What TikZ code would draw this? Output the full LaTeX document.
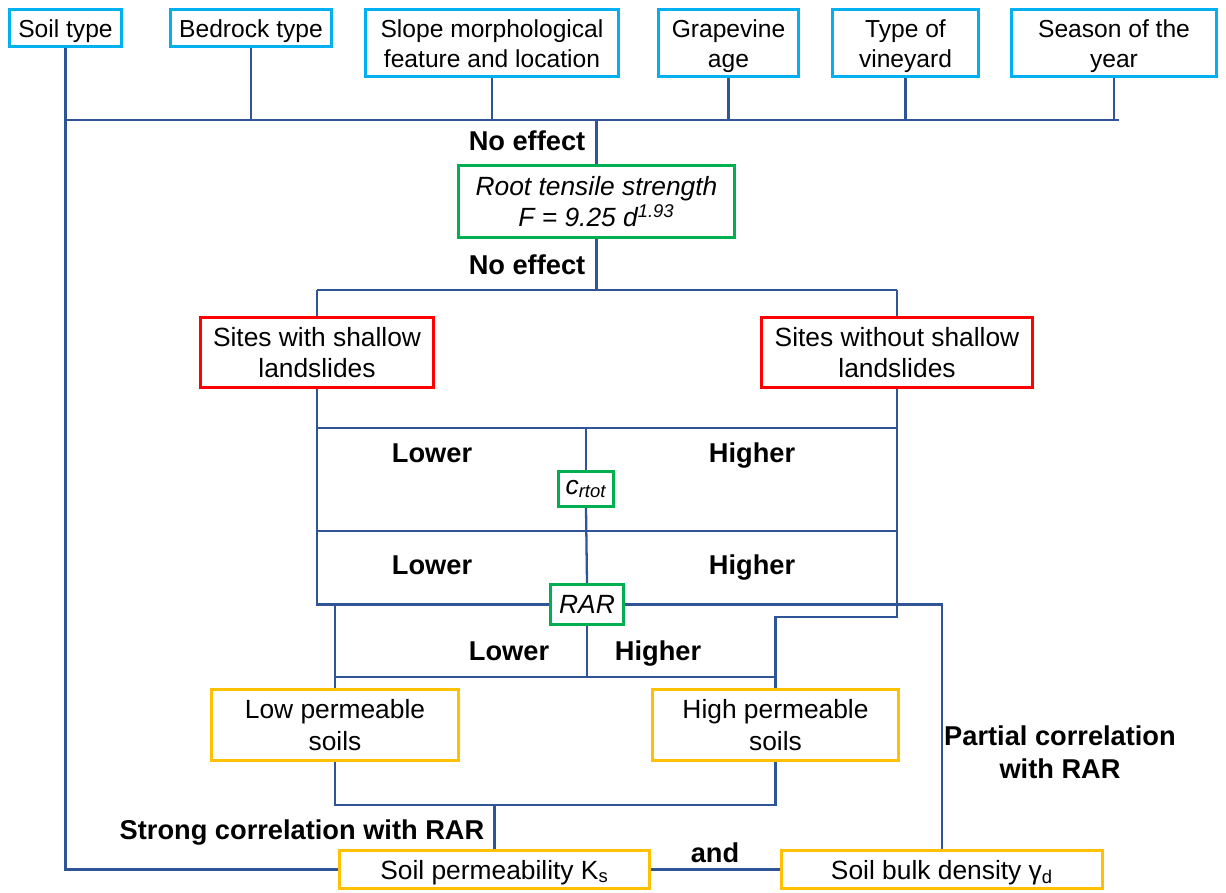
\documentclass[tikz,border=0pt]{standalone}
\usepackage{fontspec}
\setmainfont{Liberation Sans}
\definecolor{cyanb}{HTML}{00B0F0}
\definecolor{greenb}{HTML}{00B050}
\definecolor{redb}{HTML}{FF0000}
\definecolor{yellowb}{HTML}{FFC000}
\definecolor{lineb}{HTML}{2F5597}
\newcommand\bx[7]{\node[#6, minimum width={(#4-#2-3)*0.02cm}, minimum height={(#5-#3-3)*0.02cm}] (#1) at ({(#2+#4)/2},{(#3+#5)/2}) {#7};}
\newcommand\dn[1]{\raisebox{-2pt}[\height][\depth]{\begin{tabular}{@{}c@{}}#1\end{tabular}}}
\begin{document}
\begin{tikzpicture}[x=0.02cm,y=-0.02cm,
  box/.style={draw, line width=1.7pt, fill=white, inner sep=0pt, align=center, font=\fontsize{15}{18}\selectfont},
  topbox/.style={box, draw=cyanb, font=\fontsize{14}{17}\selectfont},
  gbox/.style={box, draw=greenb},
  rbox/.style={box, draw=redb},
  ybox/.style={box, draw=yellowb},
  conn/.style={draw=lineb, line width=1.3pt},
  lbl/.style={font=\fontsize{15.5}{18.6}\selectfont\bfseries, inner sep=0pt, align=center}]
\useasboundingbox (0,0) rectangle (1226,892);
% boxes
\bx{soil}{8}{8}{123}{48}{topbox}{\dn{Soil type}}
\bx{bed}{169}{8}{333}{48}{topbox}{\dn{Bedrock type}}
\bx{slope}{364}{8}{620}{78}{topbox}{\dn{Slope morphological\\feature and location}}
\bx{grape}{657}{8}{800}{78}{topbox}{\dn{Grapevine\\age}}
\bx{vine}{831}{8}{980}{78}{topbox}{\dn{Type of\\vineyard}}
\bx{season}{1010}{8}{1218}{78}{topbox}{\dn{Season of the\\year}}
\bx{rts}{457}{164}{736}{239}{gbox}{\itshape Root tensile strength\\\itshape F = 9.25 d\textsuperscript{1.93}}
\bx{shallow}{199}{316}{435}{389}{rbox}{Sites with shallow\\landslides}
\bx{without}{760}{316}{1034}{389}{rbox}{Sites without shallow\\landslides}
\bx{crtot}{557}{470}{615}{508}{gbox}{\itshape c\textsubscript{rtot}}
\bx{rar}{549}{583}{625}{626}{gbox}{\itshape RAR}
\bx{low}{210}{688}{460}{762}{ybox}{Low permeable\\soils}
\bx{high}{651}{688}{900}{762}{ybox}{High permeable\\soils}
\bx{ks}{338}{849}{651}{890}{ybox,text depth=0pt}{Soil permeability K\textsubscript{s}}
\bx{bd}{780}{849}{1104}{890}{ybox,text depth=0pt}{Soil bulk density γ\textsubscript{d}}
% coordinates
\coordinate (busL) at (66,120);
\coordinate (busR) at (1119,120);
\coordinate (splitT) at (317,290);
\coordinate (splitTR) at (897,290);
\coordinate (hA) at (317,428);
\coordinate (hAR) at (897,428);
\coordinate (hB) at (317,531);
\coordinate (hBR) at (897,531);
\coordinate (rjog) at (897,617);
\coordinate (pbus) at (336,677);
\coordinate (pbusR) at (776,677);
\coordinate (sbus) at (336,805);
% connectors
\draw[conn] (soil.south) |- (ks.west);
\draw[conn] (busL) -- (busR);
\draw[conn] (bed.south) -- (bed.south |- busL);
\draw[conn] (slope.south) -- (slope.south |- busL);
\draw[conn] (grape.south) -- (grape.south |- busL);
\draw[conn] (vine.south) -- (vine.south |- busL);
\draw[conn] (season.south) -- (season.south |- busL);
\draw[conn] (rts.north |- busL) -- (rts.north);
\draw[conn] (rts.south) -- (rts.south |- splitT);
\draw[conn] (splitT) -- (splitTR);
\draw[conn] (splitT) -- (shallow.north);
\draw[conn] (splitTR) -- (without.north);
\draw[conn] (shallow.south) |- (rar.west);
\draw[conn] (without.south) -- (rjog) -| (high.north);
\draw[conn] (hA) -- (hAR);
\draw[conn] (hB) -- (hBR);
\draw[conn] (crtot.north |- hA) -- (crtot.north);
\draw[conn] (crtot.south) -- (rar.north);
\draw[conn] (low.north) -- (low.north |- rar.west);
\draw[conn] (rar.east) -| (bd.north);
\draw[conn] (pbus) -- (pbusR);
\draw[conn] (rar.south) -- (rar.south |- pbus);
\draw[conn] (low.south) |- (sbus) -| (high.south);
\draw[conn] (ks.north |- sbus) -- (ks.north);
\draw[conn] (ks.east) -- (bd.west);
% labels
\node[lbl] (ne1) at (527,141) {No effect};
\node[lbl] (ne2) at (527,265) {No effect};
\node[lbl, anchor=base] (lo1) at (432,462) {Lower};
\node[lbl, anchor=base] (hi1) at (752,462) {Higher};
\node[lbl, anchor=base] (lo2) at (432,574) {Lower};
\node[lbl, anchor=base] (hi2) at (752,574) {Higher};
\node[lbl, anchor=base] (lo3) at (509,660) {Lower};
\node[lbl, anchor=base] (hi3) at (658,660) {Higher};
\node[lbl, anchor=base] (strong) at (302,839) {Strong correlation with RAR};
\node[lbl] (and) at (715,853) {and};
\node[lbl] (partial) at (1060,752) {Partial correlation\\with RAR};
\end{tikzpicture}
\end{document}
